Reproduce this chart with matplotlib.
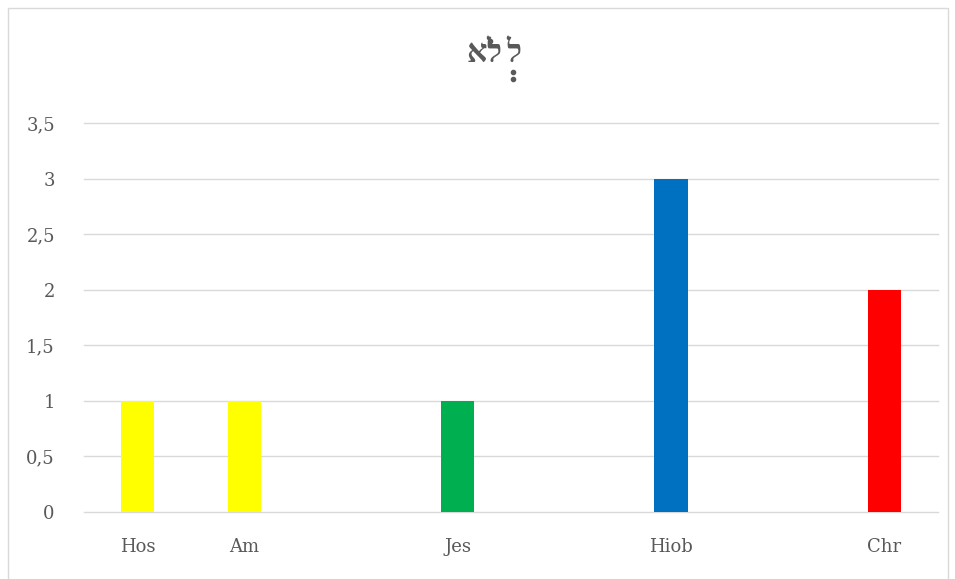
import matplotlib
matplotlib.use("Agg")
import matplotlib.pyplot as plt
from matplotlib.patches import Rectangle
from matplotlib.lines import Line2D

# category slots (empty strings are unlabeled slots)
books = ["Hos", "Am", "", "Jes", "", "Hiob", "", "Chr"]
counts = [1, 1, 0, 1, 0, 3, 0, 2]
colors = ["#FFFF00", "#FFFF00", "#FFFFFF", "#00B050", "#FFFFFF", "#0070C0", "#FFFFFF", "#FF0000"]
y_ticks = [0, 0.5, 1, 1.5, 2, 2.5, 3, 3.5]
title_text = "לְלֹא"  # logical order, with niqqud

label_color = "#595959"
serif = ["DejaVu Serif", "Liberation Serif"]
W, H = 955, 579

fig = plt.figure(figsize=(W / 100, H / 100), dpi=100)
ax = fig.add_axes([0.088, 0.1157, 0.894, 0.672])

x = list(range(len(books)))
for xi, val, col in zip(x, counts, colors):
    if val > 0:
        ax.bar(xi, val, width=0.31, color=col, zorder=3)

ax.set_xlim(-0.5, len(books) - 0.5)
ax.set_ylim(0, 3.5)
ax.set_yticks(y_ticks)
ax.set_yticklabels([f"{t:g}".replace(".", ",") for t in y_ticks],
                   fontsize=13, color=label_color, family=serif)
ax.set_xticks(x)
ax.set_xticklabels(books, fontsize=13, color=label_color, family=serif)
ax.tick_params(axis="both", length=0)
ax.tick_params(axis="y", pad=21)
ax.tick_params(axis="x", pad=19)
ax.yaxis.grid(True, color="#D9D9D9", linewidth=1, zorder=0)
for gl in ax.get_ygridlines():
    gl.set_clip_on(False)
for s in ax.spines.values():
    s.set_visible(False)

# title: matplotlib has no bidi / mark positioning, so draw the bare letters
# one by one in visual order and put the holam and sheva dots in by hand
letters = "".join(c for c in title_text if not ("\u0591" <= c <= "\u05C7"))[::-1]
tfont = dict(fontsize=23, family=["Liberation Serif", "DejaVu Sans"], weight="bold")
base_px = H - 62  # baseline, pixels from bottom
for ch, px in zip(letters, [467, 486, 506]):
    fig.text(px / W, base_px / H, ch, ha="left", va="baseline",
             color=label_color, **tfont)

dots = [(490, H - 41), (513, H - 72), (513, H - 79)]  # holam, sheva
for px, py in dots:
    fig.add_artist(Line2D([px / W], [py / H], marker="o", markersize=3,
                          color=label_color, linestyle="none",
                          transform=fig.transFigure))

# outer chart border
fig.patches.append(Rectangle((8 / W, -0.01), 940 / W, 1 - 8 / H + 0.01,
                             transform=fig.transFigure, fill=False,
                             edgecolor="#D9D9D9", linewidth=1))

fig.savefig("out.png", dpi=100)
